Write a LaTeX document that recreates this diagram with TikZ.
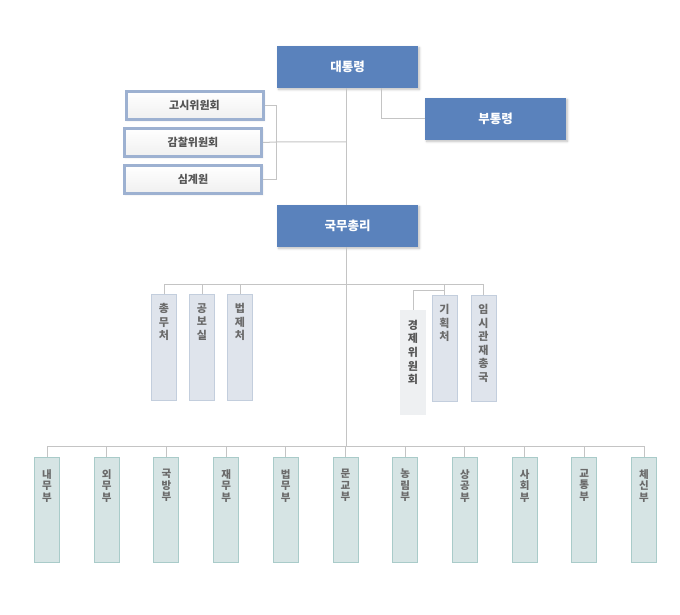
\documentclass[tikz,border=0pt]{standalone}
\usepackage{fontspec}
\setmainfont{Noto Sans CJK KR}
\usetikzlibrary{shadows.blur}
\definecolor{bluebox}{HTML}{5A82BC}
\definecolor{leftborder}{HTML}{9DB1D1}
\definecolor{midfill}{HTML}{DFE4EC}
\definecolor{midborder}{HTML}{C3CEDD}
\definecolor{botfill}{HTML}{D6E4E4}
\definecolor{botborder}{HTML}{A9CBC9}
\definecolor{ecofill}{HTML}{EEF0F2}
\definecolor{linegray}{HTML}{C4C4C4}
\definecolor{txtgray}{HTML}{6A6A6A}
\definecolor{txtdark}{HTML}{555555}
\tikzset{
  conn/.style={draw=linegray, line width=1pt},
  topbox/.style={rectangle, fill=bluebox, minimum width=141, minimum height=42, inner sep=0,
     text=white, font=\fontsize{12.5}{15}\selectfont\bfseries,
     blur shadow={shadow xshift=1.5pt, shadow yshift=-1.5pt, shadow opacity=25, shadow blur steps=6}},
  leftbox/.style={rectangle, draw=leftborder, line width=3pt, top color=white, bottom color=black!6,
     minimum width=137, minimum height=28, inner sep=0, text=txtdark,
     font=\fontsize{11}{13}\selectfont\bfseries,
     blur shadow={shadow xshift=1pt, shadow yshift=-1pt, shadow opacity=15, shadow blur steps=4}},
  midbox/.style={rectangle, fill=midfill, draw=midborder, line width=1pt, minimum width=25, minimum height=106, inner sep=0},
  ecobox/.style={rectangle, fill=ecofill, minimum width=26, minimum height=105, inner sep=0},
  botbox/.style={rectangle, fill=botfill, draw=botborder, line width=1pt, minimum width=25, minimum height=105, inner sep=0},
  midtxt/.style={anchor=north, inner sep=0, align=center, text=txtgray, font=\fontsize{11}{13.6}\selectfont\bfseries},
  bottxt/.style={anchor=north, inner sep=0, align=center, text=txtgray, font=\fontsize{10.5}{11.5}\selectfont\bfseries},
}
\begin{document}
\begin{tikzpicture}[x=1pt,y=-1pt]
\useasboundingbox (0,0) rectangle (680,615);
% top level
\node[topbox] (pres) at (347.5,67) {대통령};
\node[topbox] (vp) at (495.5,119) {부통령};
\node[topbox] (pm) at (347.5,226) {국무총리};
% left committees
\node[leftbox] (gosi) at (194.5,105.5) {고시위원회};
\node[leftbox] (gamchal) at (193,142.5) {감찰위원회};
\node[leftbox] (simgye) at (193,179.5) {심계원};
% junctions
\coordinate (vpj) at (381,88);
\coordinate (pt) at (346,88);
\coordinate (pn) at (346,205);
\coordinate (ps) at (346,247);
\coordinate (lj) at (276,142);
\coordinate (mj) at (346,284);
\coordinate (ej) at (444,290);
\coordinate (bj) at (346,446);
% connectors
\draw[conn] (vpj) |- (vp.west);
\draw[conn] (gosi.east) -| (lj);
\draw[conn] (simgye.east) -| (lj);
\draw[conn] (gamchal.east) -- (lj) -- (pt |- lj);
\draw[conn] (pt) -- (pn);
\draw[conn] (ps) -- (bj);
% middle level boxes
\node[midbox] (chongmu) at (164,347) {};
\node[midbox] (gongbo) at (202,347) {};
\node[midbox] (beopje) at (240,347) {};
\node[ecobox] (gyeongje) at (413,362.5) {};
\node[midbox] (gihoek) at (444.5,348) {};
\node[midbox] (imsi) at (483.5,348) {};
\node[midtxt] (t1) at ([yshift=-9.5]chongmu.north) {총\\무\\처};
\node[midtxt] (t2) at ([yshift=-9.5]gongbo.north) {공\\보\\실};
\node[midtxt] (t3) at ([yshift=-9.5]beopje.north) {법\\제\\처};
\node[midtxt, text=txtdark] (t4) at ([yshift=-10]gyeongje.north) {경\\제\\위\\원\\회};
\node[midtxt] (t5) at ([yshift=-9.5]gihoek.north) {기\\획\\처};
\node[midtxt] (t6) at ([yshift=-9.5]imsi.north) {임\\시\\관\\재\\총\\국};
\draw[conn] (mj) -| (chongmu.north);
\draw[conn] (mj) -| (gongbo.north);
\draw[conn] (mj) -| (beopje.north);
\draw[conn] (mj) -| (gihoek.north);
\draw[conn] (mj) -| (imsi.north);
\draw[conn] (ej) -| (gyeongje.north);
% ministries
\foreach \i/\txt in {0/{내\\무\\부},1/{외\\무\\부},2/{국\\방\\부},3/{재\\무\\부},4/{법\\무\\부},5/{문\\교\\부},6/{농\\림\\부},7/{상\\공\\부},8/{사\\회\\부},9/{교\\통\\부},10/{체\\신\\부}}{
  \node[botbox] (m\i) at ({47+59.7*\i},510) {};
  \node[bottxt] (mt\i) at ([yshift=-12]m\i.north) {\txt};
  \draw[conn] (bj) -| (m\i.north);
}
\end{tikzpicture}
\end{document}
